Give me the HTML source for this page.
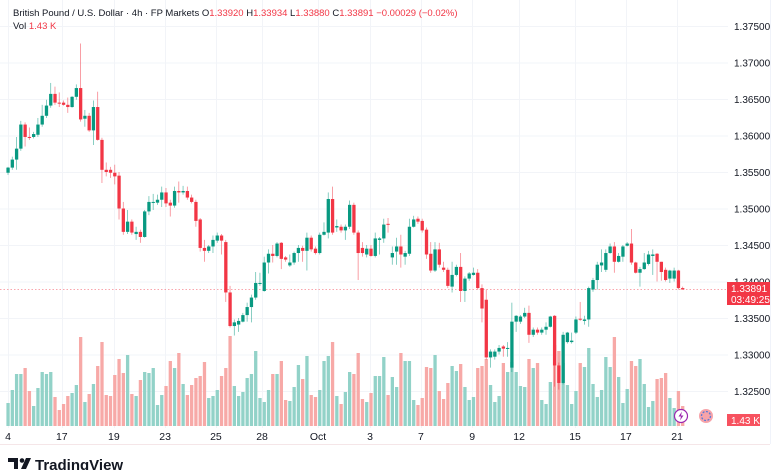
<!DOCTYPE html>
<html><head><meta charset="utf-8"><style>
body{margin:0;width:780px;height:470px;overflow:hidden;background:#fff;font-family:"Liberation Sans",sans-serif}
svg{position:absolute;left:0;top:0}
</style></head><body>
<svg id="chart" width="780" height="470" viewBox="0 0 780 470" xmlns="http://www.w3.org/2000/svg">
<g id="grid"></g>
<g id="vols"></g>
<g id="candles"></g>
<g id="yaxis"></g>
<g id="xaxis"></g>
<line x1="0" y1="444.5" x2="770" y2="444.5" stroke="#f5e6e8"/>
<line x1="770.5" y1="0" x2="770.5" y2="444" stroke="#f0f3fa"/>
<text x="13" y="16" font-size="9.5" fill="#131722">British Pound / U.S. Dollar · 4h · FP Markets  <tspan>O</tspan><tspan fill="#f23645">1.33920</tspan>  H<tspan fill="#f23645">1.33934</tspan>  L<tspan fill="#f23645">1.33880</tspan>  C<tspan fill="#f23645">1.33891</tspan>  <tspan fill="#f23645">−0.00029 (−0.02%)</tspan></text>
<text x="13" y="29" font-size="9.5" fill="#131722">Vol  <tspan fill="#f23645">1.43 K</tspan></text>
<g>
<rect x="727" y="282" width="43" height="23" fill="#f23645"/>
<text x="731" y="292" font-size="10" fill="#fff">1.33891</text>
<text x="731" y="303" font-size="10" fill="#fff">03:49:25</text>
</g>
<g>
<rect x="727" y="414" width="33" height="12" fill="#f7525f"/>
<text x="731" y="424" font-size="10" fill="#fff">1.43 K</text>
</g>
<g>
<circle cx="681" cy="416" r="6.5" fill="#fff" stroke="#9c27b0" stroke-width="1.2"/>
<path d="M682 411.5 L678.5 416.5 L681 416.5 L680 420.5 L683.5 415.5 L681 415.5 Z" fill="#9c27b0"/>
</g>
<g>
<circle cx="706" cy="416" r="7" fill="#f7a3a9"/>
<circle cx="706" cy="416" r="4.5" fill="none" stroke="#5b7bd6" stroke-width="1.3" stroke-dasharray="2 1.5"/>
</g>
<g>
<path d="M8 458 h10 v11 h-4 v-7 h-6 z" fill="#131722"/>
<circle cx="22" cy="460.5" r="2.3" fill="#131722"/>
<path d="M26 458 h5 l-5 11 h-5 z" fill="#131722"/>
<text x="35" y="470" font-size="15" font-weight="bold" fill="#131722">TradingView</text>
</g>
</svg>
<script>
const opens=[1.3549,1.3556,1.3567,1.3582,1.3615,1.3598,1.3598,1.3601,1.3615,1.3627,1.3641,1.3657,1.3645,1.3645,1.3642,1.3639,1.3653,1.3665,1.3623,1.3627,1.3607,1.3639,1.3594,1.3553,1.3553,1.3549,1.3545,1.3500,1.3468,1.3482,1.3465,1.3468,1.3461,1.3496,1.3508,1.3508,1.3512,1.3522,1.3508,1.3504,1.3524,1.3522,1.3524,1.3515,1.3509,1.3485,1.3446,1.3442,1.3448,1.3456,1.3463,1.3454,1.3385,1.3339,1.3341,1.3345,1.3354,1.3365,1.3378,1.3397,1.3387,1.3426,1.3438,1.3435,1.3453,1.3433,1.3422,1.3426,1.3439,1.3446,1.3442,1.3460,1.3445,1.3439,1.3464,1.3467,1.3513,1.3474,1.3475,1.3470,1.3475,1.3505,1.3467,1.3446,1.3437,1.3445,1.3435,1.3457,1.3459,1.3479,1.3433,1.3441,1.3448,1.3434,1.3438,1.3475,1.3486,1.3483,1.3471,1.3438,1.3415,1.3444,1.3419,1.3416,1.3393,1.3409,1.3420,1.3387,1.3404,1.3409,1.3412,1.3391,1.3375,1.3296,1.3297,1.3304,1.3311,1.3308,1.3282,1.3345,1.3345,1.3352,1.3357,1.3327,1.3334,1.3330,1.3334,1.3338,1.3353,1.3285,1.3261,1.3317,1.3317,1.3330,1.3349,1.3346,1.3348,1.3389,1.3402,1.3422,1.3416,1.3439,1.3448,1.3427,1.3434,1.3449,1.3452,1.3426,1.3412,1.3417,1.3424,1.3435,1.3438,1.3427,1.3416,1.3404,1.3404,1.3415,1.3391];
const highs=[1.3557,1.3571,1.3598,1.3620,1.3618,1.3611,1.3605,1.3624,1.3642,1.3649,1.3672,1.3667,1.3659,1.3648,1.3652,1.3654,1.3670,1.3726,1.3635,1.3631,1.3648,1.3660,1.3597,1.3563,1.3557,1.3560,1.3550,1.3509,1.3498,1.3485,1.3475,1.3471,1.3498,1.3517,1.3520,1.3519,1.3530,1.3528,1.3512,1.3530,1.3537,1.3531,1.3530,1.3519,1.3512,1.3487,1.3457,1.3450,1.3463,1.3467,1.3465,1.3457,1.3394,1.3348,1.3350,1.3357,1.3371,1.3382,1.3413,1.3412,1.3434,1.3444,1.3450,1.3454,1.3454,1.3435,1.3437,1.3441,1.3450,1.3449,1.3467,1.3463,1.3448,1.3467,1.3481,1.3522,1.3530,1.3485,1.3478,1.3478,1.3511,1.3508,1.3470,1.3454,1.3450,1.3450,1.3467,1.3461,1.3486,1.3487,1.3448,1.3460,1.3464,1.3442,1.3486,1.3490,1.3489,1.3486,1.3474,1.3454,1.3454,1.3453,1.3427,1.3419,1.3427,1.3423,1.3439,1.3407,1.3413,1.3419,1.3417,1.3396,1.3389,1.3307,1.3307,1.3313,1.3313,1.3317,1.3371,1.3354,1.3354,1.3364,1.3367,1.3337,1.3337,1.3337,1.3344,1.3353,1.3354,1.3289,1.3331,1.3331,1.3330,1.3352,1.3372,1.3353,1.3393,1.3405,1.3427,1.3444,1.3444,1.3452,1.3454,1.3439,1.3450,1.3454,1.3472,1.3427,1.3420,1.3439,1.3442,1.3444,1.3439,1.3427,1.3419,1.3416,1.3419,1.3416,1.3393];
const lows=[1.3546,1.3553,1.3553,1.3579,1.3585,1.3594,1.3596,1.3598,1.3612,1.3624,1.3638,1.3642,1.3639,1.3641,1.3631,1.3638,1.3649,1.3619,1.3612,1.3605,1.3587,1.3593,1.3535,1.3544,1.3542,1.3533,1.3485,1.3464,1.3465,1.3464,1.3457,1.3453,1.3460,1.3491,1.3498,1.3505,1.3502,1.3502,1.3489,1.3501,1.3508,1.3519,1.3512,1.3507,1.3475,1.3441,1.3427,1.3439,1.3439,1.3453,1.3437,1.3372,1.3337,1.3326,1.3331,1.3344,1.3345,1.3344,1.3375,1.3394,1.3386,1.3411,1.3426,1.3433,1.3417,1.3427,1.3420,1.3423,1.3427,1.3427,1.3415,1.3441,1.3437,1.3437,1.3463,1.3459,1.3464,1.3468,1.3467,1.3457,1.3472,1.3464,1.3402,1.3434,1.3433,1.3434,1.3433,1.3437,1.3453,1.3467,1.3423,1.3423,1.3419,1.3423,1.3435,1.3474,1.3479,1.3467,1.3431,1.3412,1.3413,1.3419,1.3413,1.3391,1.3385,1.3407,1.3372,1.3372,1.3401,1.3408,1.3389,1.3344,1.3293,1.3282,1.3293,1.3300,1.3297,1.3297,1.3276,1.3331,1.3342,1.3350,1.3316,1.3324,1.3327,1.3327,1.3327,1.3337,1.3256,1.3252,1.3259,1.3315,1.3315,1.3328,1.3346,1.3341,1.3338,1.3386,1.3389,1.3413,1.3413,1.3438,1.3412,1.3426,1.3427,1.3448,1.3423,1.3411,1.3393,1.3416,1.3422,1.3409,1.3400,1.3401,1.3400,1.3398,1.3400,1.3389,1.3389];
const closes=[1.3556,1.3567,1.3582,1.3615,1.3598,1.3597,1.3602,1.3615,1.3627,1.3641,1.3657,1.3645,1.3644,1.3642,1.3639,1.3653,1.3665,1.3622,1.3627,1.3607,1.3639,1.3594,1.3553,1.3550,1.3549,1.3544,1.3500,1.3468,1.3482,1.3467,1.3468,1.3461,1.3496,1.3509,1.3509,1.3512,1.3522,1.3507,1.3504,1.3524,1.3522,1.3524,1.3515,1.3509,1.3483,1.3446,1.3442,1.3448,1.3457,1.3463,1.3456,1.3385,1.3339,1.3344,1.3346,1.3354,1.3365,1.3378,1.3398,1.3398,1.3426,1.3438,1.3435,1.3452,1.3431,1.3430,1.3426,1.3439,1.3446,1.3442,1.3460,1.3444,1.3439,1.3464,1.3468,1.3513,1.3467,1.3476,1.3470,1.3475,1.3505,1.3467,1.3439,1.3439,1.3445,1.3435,1.3459,1.3459,1.3478,1.3478,1.3439,1.3448,1.3437,1.3439,1.3475,1.3485,1.3482,1.3470,1.3437,1.3415,1.3444,1.3423,1.3416,1.3394,1.3409,1.3420,1.3387,1.3404,1.3411,1.3412,1.3391,1.3363,1.3296,1.3304,1.3304,1.3309,1.3308,1.3309,1.3345,1.3353,1.3352,1.3357,1.3327,1.3334,1.3330,1.3334,1.3338,1.3352,1.3285,1.3261,1.3327,1.3330,1.3319,1.3348,1.3348,1.3348,1.3391,1.3402,1.3423,1.3426,1.3439,1.3448,1.3427,1.3435,1.3448,1.3452,1.3426,1.3412,1.3417,1.3426,1.3437,1.3437,1.3427,1.3413,1.3402,1.3415,1.3415,1.3391,1.33891];
const volumes=[23,36,52,52,58,35,20,38,54,52,54,29,16,22,30,33,41,89,24,32,42,60,84,31,30,51,67,53,71,32,30,46,54,53,58,21,31,40,65,58,73,42,31,41,48,50,64,28,30,36,50,58,90,40,30,34,48,52,
75,28,24,36,52,52,65,26,25,39,61,47,70,31,29,36,65,70,84,30,22,34,54,52,73,27,24,33,50,50,69,31,49,39,73,65,65,26,21,28,59,58,71,35,27,43,60,55,62,39,26,29,58,60,67,41,24,
30,63,54,64,54,40,39,67,58,63,26,22,44,81,75,63,41,22,35,63,59,78,42,29,36,69,59,89,49,23,37,65,60,67,42,19,25,47,48,53,28,18,35,20];
const priceTicks=[1.375,1.370,1.365,1.360,1.355,1.350,1.345,1.340,1.335,1.330,1.325];
const priceTickLabels=["1.37500","1.37000","1.36500","1.36000","1.35500","1.35000","1.34500","1.34000","1.33500","1.33000","1.32500"];
const dateTickIdx=[0,12.6,24.8,36.8,48.7,59.5,72.6,84.8,96.7,108.7,119.7,132.8,144.7,156.7];
const dateTickLabels=["4","17","19","23","25","28","Oct","3","7","9","12","15","17","21"];
const lastPrice=1.33891;

const NS="http://www.w3.org/2000/svg";
function X(i){return 8+i*4.27;}
function Y(p){return 26+(1.375-p)*7300;}
function VY(v){return 426-v;}
function mk(tag,attrs,parent){const e=document.createElementNS(NS,tag);for(const k in attrs)e.setAttribute(k,attrs[k]);parent.appendChild(e);return e;}
const grid=document.getElementById('grid'),cg=document.getElementById('candles'),vg=document.getElementById('vols'),ya=document.getElementById('yaxis'),xa=document.getElementById('xaxis');
priceTicks.forEach((p,k)=>{
  const l=mk('line',{x1:0,x2:728,y1:Y(p)+0.5,y2:Y(p)+0.5,stroke:'#f2f4f8'},grid);
  
  
  const t=mk('text',{x:734,y:Y(p)+4,'font-size':10,fill:'#131722'},ya);
  t.textContent=priceTickLabels[k];
  
  
});
dateTickIdx.forEach((d,k)=>{
  const l=mk('line',{x1:Math.round(X(d))+0.5,x2:Math.round(X(d))+0.5,y1:0,y2:428,stroke:'#f2f4f8'},grid);
  
  
  const t=mk('text',{x:X(d),y:440,'font-size':10.5,fill:'#131722','text-anchor':'middle'},xa);
  t.textContent=dateTickLabels[k];
  
  
});
volumes.forEach((v,i)=>{
  const up=closes[i]>=opens[i];
  const r=mk('rect',{x:X(i)-1.6,y:VY(v),width:3.3,height:v,fill:up?'#92d2c8':'#f7a9a7'},vg);
  
  
});
const pl=mk('line',{x1:0,x2:728,y1:Y(lastPrice),y2:Y(lastPrice),stroke:'#f23645','stroke-width':0.7,'stroke-dasharray':'1.5 2',opacity:0.7},cg);


opens.forEach((o,i)=>{
  const c=closes[i],up=c>=o,col=up?'#089981':'#f23645',x=X(i);
  const w=mk('line',{x1:x,x2:x,y1:Y(highs[i]),y2:Y(lows[i]),stroke:col,'stroke-width':0.8,opacity:0.6},cg);
  
  
  const top=Y(Math.max(o,c)),h=Math.max(1,Math.abs(Y(o)-Y(c)));
  const b=mk('rect',{x:x-1.6,y:top,width:3.3,height:h,fill:col},cg);
  
  
});
</script>
</body></html>
